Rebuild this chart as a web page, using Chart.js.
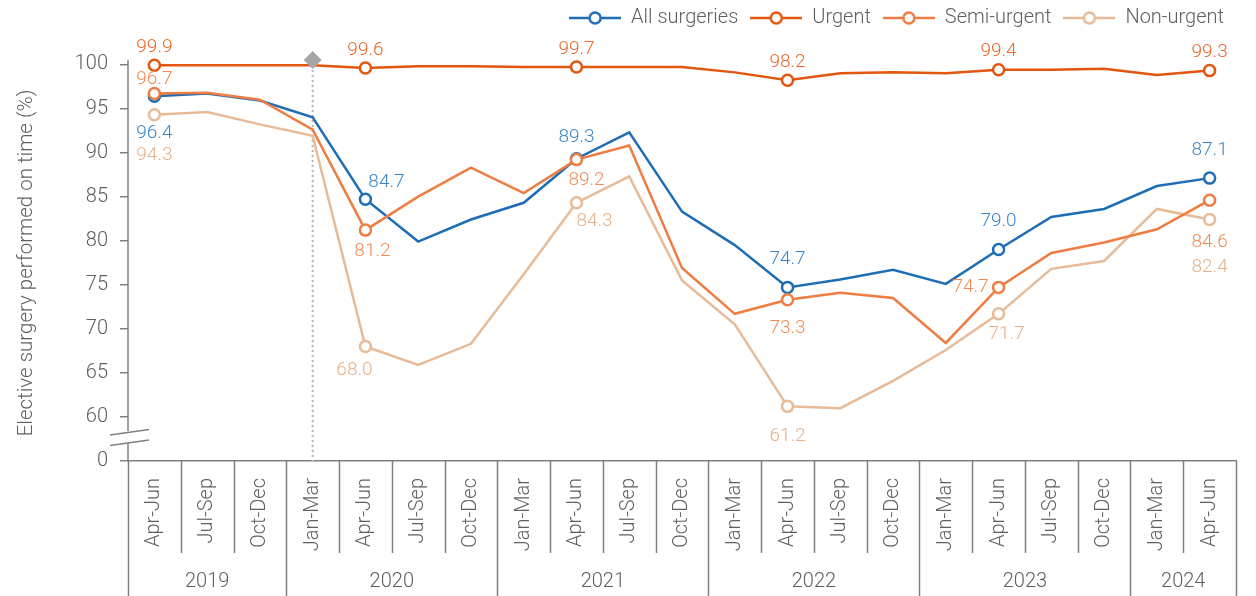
<!DOCTYPE html>
<html>
<head>
<meta charset="utf-8">
<script src="https://cdn.jsdelivr.net/npm/chart.js@4/dist/chart.umd.min.js"></script>
<style>
  html, body { margin: 0; padding: 0; background: #fff; }
  #wrap { width: 1256px; height: 596px; }
</style>
</head>
<body>
<div id="wrap"><canvas id="chart" width="1256" height="596"></canvas></div>
<script>
// quarters along the x axis, grouped by year
const quarters = [
  'Apr-Jun', 'Jul-Sep', 'Oct-Dec',
  'Jan-Mar', 'Apr-Jun', 'Jul-Sep', 'Oct-Dec',
  'Jan-Mar', 'Apr-Jun', 'Jul-Sep', 'Oct-Dec',
  'Jan-Mar', 'Apr-Jun', 'Jul-Sep', 'Oct-Dec',
  'Jan-Mar', 'Apr-Jun', 'Jul-Sep', 'Oct-Dec',
  'Jan-Mar', 'Apr-Jun'
];
const years = ['2019', '2020', '2021', '2022', '2023', '2024'];
const quartersPerYear = [3, 4, 4, 4, 4, 2];

// % of elective surgery performed on time
const allSurgeries = [96.4, 96.7, 95.9, 94.0, 84.7, 79.9, 82.4, 84.3, 89.3, 92.3, 83.3,
  79.5, 74.7, 75.6, 76.7, 75.1, 79.0, 82.7, 83.6, 86.2, 87.1];
const urgent = [99.9, 99.9, 99.9, 99.9, 99.6, 99.8, 99.8, 99.7, 99.7, 99.7, 99.7,
  99.1, 98.2, 99.0, 99.1, 99.0, 99.4, 99.4, 99.5, 98.8, 99.3];
const semiUrgent = [96.7, 96.8, 96.0, 92.6, 81.2, 85.0, 88.3, 85.4, 89.2, 90.8, 76.9,
  71.7, 73.3, 74.1, 73.5, 68.4, 74.7, 78.6, 79.8, 81.3, 84.6];
const nonUrgent = [94.3, 94.6, 93.2, 91.9, 68.0, 65.9, 68.3, 76.2, 84.3, 87.3, 75.5,
  70.5, 61.2, 61.0, 64.1, 67.6, 71.7, 76.8, 77.7, 83.6, 82.4];

// broken y axis: 55 on the scale is shown as 0
const yTickValues = [55, 60, 65, 70, 75, 80, 85, 90, 95, 100];
const yTickLabels = ['0', '60', '65', '70', '75', '80', '85', '90', '95', '100'];
const yAxisMin = 55;
const yAxisMax = 103.0;
const yAxisTop = 100.5;

const markedPoints = [0, 4, 8, 12, 16, 20];   // Apr-Jun of each year
const covidIndex = 3;                          // Jan-Mar 2020

const FONT = 'Roboto';
const GREY = '#5f5f5f';
const AXIS = '#808080';

const series = [
  { label: 'All surgeries', data: allSurgeries, color: '#1f6db5', text: '#3b86c6', order: 2 },
  { label: 'Urgent', data: urgent, color: '#e2560e', text: '#e9682a', order: 0 },
  { label: 'Semi-urgent', data: semiUrgent, color: '#ee7c43', text: '#f08b55', order: 1 },
  { label: 'Non-urgent', data: nonUrgent, color: '#e7bb98', text: '#e4b18b', order: 3 }
];

// where each value label sits relative to its point (px)
const labelPlacement = [
  [{ i: 0, dx: 0, dy: 37 }, { i: 4, dx: 21, dy: -17 }, { i: 8, dx: 0, dy: -21 },
   { i: 12, dx: 0, dy: -28 }, { i: 16, dx: 0, dy: -28 }, { i: 20, dx: 0, dy: -28 }],
  [{ i: 0, dx: 0, dy: -18 }, { i: 4, dx: 0, dy: -18 }, { i: 8, dx: 0, dy: -18 },
   { i: 12, dx: 0, dy: -18 }, { i: 16, dx: 0, dy: -18 }, { i: 20, dx: 0, dy: -18 }],
  [{ i: 0, dx: 0, dy: -14 }, { i: 4, dx: 7, dy: 21 }, { i: 8, dx: 10, dy: 21 },
   { i: 12, dx: 0, dy: 29 }, { i: 16, dx: -10, dy: 0, align: 'right' }, { i: 20, dx: 0, dy: 42 }],
  [{ i: 0, dx: 0, dy: 41 }, { i: 4, dx: -11, dy: 24 }, { i: 8, dx: 18, dy: 18 },
   { i: 12, dx: 0, dy: 30 }, { i: 16, dx: 8, dy: 20 }, { i: 20, dx: 0, dy: 48 }]
];

function legendMarker(color) {
  const c = document.createElement('canvas');
  c.width = 52; c.height = 16;
  const g = c.getContext('2d');
  g.strokeStyle = color;
  g.lineWidth = 2.5;
  g.beginPath(); g.moveTo(0, 8); g.lineTo(52, 8); g.stroke();
  g.fillStyle = '#fff';
  g.beginPath(); g.arc(26, 8, 5.5, 0, Math.PI * 2); g.fill(); g.stroke();
  return c;
}

const extras = {
  id: 'extras',
  beforeDatasetsDraw(chart) {
    const { ctx } = chart;
    const x = chart.scales.x, y = chart.scales.y;
    // dotted marker line at the start of 2020
    const cx = x.getPixelForValue(covidIndex);
    ctx.save();
    ctx.strokeStyle = '#b5b5b5';
    ctx.lineWidth = 2;
    ctx.setLineDash([2, 3]);
    ctx.beginPath();
    ctx.moveTo(cx, y.getPixelForValue(yAxisTop));
    ctx.lineTo(cx, y.getPixelForValue(yAxisMin));
    ctx.stroke();
    ctx.restore();
  },
  afterDatasetsDraw(chart) {
    const { ctx } = chart;
    const x = chart.scales.x, y = chart.scales.y;
    ctx.save();
    // value labels
    ctx.font = '300 19px ' + FONT;
    ctx.textBaseline = 'middle';
    series.forEach((s, si) => {
      ctx.fillStyle = s.text;
      labelPlacement[si].forEach(p => {
        ctx.textAlign = p.align || 'center';
        const px = x.getPixelForValue(p.i) + p.dx;
        const py = y.getPixelForValue(s.data[p.i]) + p.dy;
        ctx.fillText(s.data[p.i].toFixed(1), px, py);
      });
    });
    // diamond on top of the dotted line
    const cx = x.getPixelForValue(covidIndex);
    const cy = y.getPixelForValue(yAxisTop);
    ctx.fillStyle = '#a6a6a6';
    ctx.beginPath();
    ctx.moveTo(cx, cy - 9); ctx.lineTo(cx + 9, cy); ctx.lineTo(cx, cy + 9); ctx.lineTo(cx - 9, cy);
    ctx.closePath(); ctx.fill();
    ctx.restore();
  },
  afterDraw(chart) {
    const { ctx, chartArea } = chart;
    const x = chart.scales.x, y = chart.scales.y;
    const left = chartArea.left, bottom = chartArea.bottom;
    ctx.save();
    ctx.strokeStyle = AXIS;
    ctx.lineWidth = 1.5;
    // y axis line with a break between 0 and 60
    const breakTop = 431, breakBot = 443;
    ctx.beginPath();
    ctx.moveTo(left, y.getPixelForValue(yAxisTop));
    ctx.lineTo(left, breakTop);
    ctx.moveTo(left, breakBot);
    ctx.lineTo(left, bottom);
    ctx.stroke();
    ctx.beginPath();
    ctx.moveTo(left - 18, 435); ctx.lineTo(left + 21, 429.5);
    ctx.moveTo(left - 18, 445.5); ctx.lineTo(left + 21, 440);
    ctx.stroke();

    // category table under the x axis
    const step = x.getPixelForValue(1) - x.getPixelForValue(0);
    const edge = i => x.getPixelForValue(0) - step / 2 + i * step;
    const yearEdges = [0];
    quartersPerYear.forEach(n => yearEdges.push(yearEdges[yearEdges.length - 1] + n));
    ctx.beginPath();
    for (let i = 0; i <= quarters.length; i++) {
      const ex = Math.round(edge(i)) + 0.5;
      ctx.moveTo(ex, bottom);
      ctx.lineTo(ex, yearEdges.includes(i) ? chart.height : 553);
    }
    ctx.stroke();

    ctx.fillStyle = GREY;
    ctx.font = '300 20px ' + FONT;
    ctx.textAlign = 'center';
    ctx.textBaseline = 'middle';
    years.forEach((yr, k) => {
      const mid = (edge(yearEdges[k]) + edge(yearEdges[k + 1])) / 2;
      ctx.fillText(yr, mid, 582);
    });

    // y axis title
    ctx.font = '300 20.5px ' + FONT;
    ctx.translate(27, 263);
    ctx.rotate(-Math.PI / 2);
    ctx.fillText('Elective surgery performed on time (%)', 0, 0);
    ctx.restore();
  }
};

new Chart(document.getElementById('chart'), {
  type: 'line',
  data: {
    labels: quarters,
    datasets: series.map(s => ({
      label: s.label,
      data: s.data,
      order: s.order,
      borderColor: s.color,
      backgroundColor: '#fff',
      borderWidth: 2.5,
      tension: 0,
      pointRadius: ctx => markedPoints.includes(ctx.dataIndex) ? 5.5 : 0,
      pointBackgroundColor: '#fff',
      pointBorderColor: s.color,
      pointBorderWidth: 2.5,
      pointStyle: 'circle',
      clip: false
    }))
  },
  options: {
    responsive: false,
    animation: false,
    layout: { padding: { left: 0, right: 20, top: -4, bottom: 0 } },
    plugins: {
      tooltip: { enabled: false },
      legend: {
        position: 'top',
        align: 'end',
        labels: {
          usePointStyle: true,
          pointStyleWidth: 52,
          padding: 12,
          color: GREY,
          font: { family: FONT, size: 20, weight: '300' },
          generateLabels: chart => chart.data.datasets.map((d, i) => ({
            text: d.label,
            datasetIndex: i,
            pointStyle: legendMarker(d.borderColor),
            fontColor: GREY,
            lineWidth: 0,
            strokeStyle: 'transparent',
            fillStyle: 'transparent'
          }))
        }
      }
    },
    scales: {
      x: {
        type: 'category',
        offset: true,
        grid: { display: false },
        border: { display: true, color: AXIS, width: 1.5 },
        ticks: {
          autoSkip: false,
          minRotation: 90,
          maxRotation: 90,
          padding: 9,
          color: GREY,
          font: { family: FONT, size: 20, weight: '300' }
        },
        afterFit: s => { s.height = 135; }
      },
      y: {
        min: yAxisMin,
        max: yAxisMax,
        grid: { drawOnChartArea: false, drawTicks: true, tickLength: 8, color: AXIS, lineWidth: 1.5 },
        border: { display: false },
        afterBuildTicks: s => { s.ticks = yTickValues.map(v => ({ value: v })); },
        ticks: {
          padding: 12,
          color: GREY,
          font: { family: FONT, size: 20, weight: '300' },
          callback: v => yTickLabels[yTickValues.indexOf(v)]
        },
        afterFit: s => { s.width = 128; }
      }
    }
  },
  plugins: [extras]
});
</script>
</body>
</html>
